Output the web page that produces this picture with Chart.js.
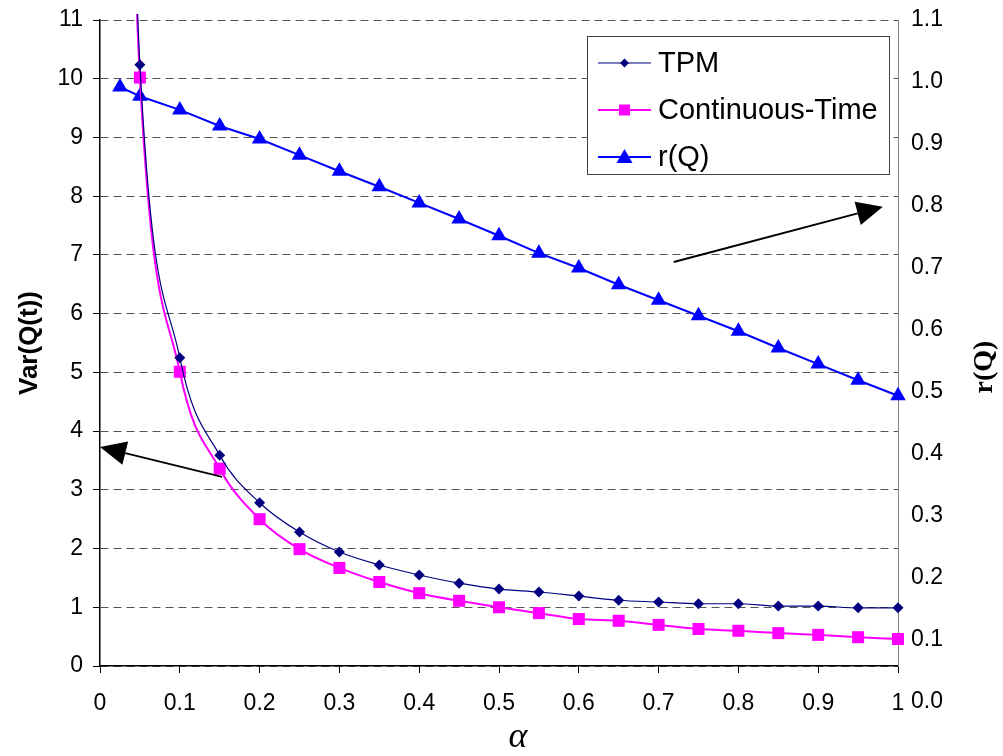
<!DOCTYPE html>
<html>
<head>
<meta charset="utf-8">
<script src="https://cdn.jsdelivr.net/npm/chart.js@4.4.0/dist/chart.umd.min.js"></script>
<style>
  html, body { margin: 0; padding: 0; background: #ffffff; }
  #wrap { width: 1003px; height: 756px; }
</style>
</head>
<body>
<div id="wrap"><canvas id="c" width="1003" height="756"></canvas></div>
<script>
// ---- data ----
const alpha = [0.025, 0.05, 0.1, 0.15, 0.2, 0.25, 0.3, 0.35, 0.4, 0.45, 0.5, 0.55, 0.6, 0.65, 0.7, 0.75, 0.8, 0.85, 0.9, 0.95, 1.0];
const tpm = [20.5, 10.24, 5.25, 3.59, 2.78, 2.28, 1.94, 1.72, 1.55, 1.41, 1.31, 1.26, 1.19, 1.12, 1.09, 1.06, 1.06, 1.02, 1.02, 0.99, 0.99];
const contTime = [20.0, 10.02, 5.01, 3.36, 2.50, 1.99, 1.67, 1.43, 1.24, 1.11, 1.00, 0.90, 0.80, 0.77, 0.70, 0.63, 0.60, 0.56, 0.53, 0.49, 0.46];
const rQ = [0.992, 0.977, 0.955, 0.929, 0.908, 0.882, 0.856, 0.831, 0.805, 0.779, 0.752, 0.724, 0.700, 0.673, 0.648, 0.623, 0.598, 0.571, 0.545, 0.519, 0.494];
const seriesNames = ['TPM', 'Continuous-Time', 'r(Q)'];
const xTicks = [0, 0.1, 0.2, 0.3, 0.4, 0.5, 0.6, 0.7, 0.8, 0.9, 1];
const leftTicks = [0, 1, 2, 3, 4, 5, 6, 7, 8, 9, 10, 11];
const rightTicks = [0.1, 0.2, 0.3, 0.4, 0.5, 0.6, 0.7, 0.8, 0.9, 1.0, 1.1];
const rightExtraLabel = 0.0;
const xTitle = '\u03B1';
const leftTitle = 'Var(Q(t))';
const rightTitle = 'r(Q)';
// arrows (data coordinates on x scale and left y scale): [tailX, tailY, tipX, tipY]
const arrows = [[0.153, 3.22, 0.0, 3.73], [0.719, 6.88, 0.981, 7.82]];

const pts = (ys) => alpha.map((a, i) => ({ x: a, y: ys[i] }));
const TICK_FONT = { family: '"Liberation Sans", Arial, sans-serif', size: 23 };

const decorPlugin = {
  id: 'decor',
  afterDatasetsDraw(chart) {
    const ctx = chart.ctx;
    const xs = chart.scales.x, ys = chart.scales.y;
    ctx.save();
    ctx.strokeStyle = '#000'; ctx.fillStyle = '#000'; ctx.lineWidth = 2;
    arrows.forEach(a => {
      const x1 = xs.getPixelForValue(a[0]), y1 = ys.getPixelForValue(a[1]);
      const x2 = xs.getPixelForValue(a[2]), y2 = ys.getPixelForValue(a[3]);
      const ang = Math.atan2(y2 - y1, x2 - x1);
      const hl = 26, hw = 12;
      const bx = x2 - hl * Math.cos(ang), by = y2 - hl * Math.sin(ang);
      ctx.beginPath(); ctx.moveTo(x1, y1); ctx.lineTo(bx, by); ctx.stroke();
      ctx.beginPath();
      ctx.moveTo(x2, y2);
      ctx.lineTo(bx + hw * Math.sin(ang), by - hw * Math.cos(ang));
      ctx.lineTo(bx - hw * Math.sin(ang), by + hw * Math.cos(ang));
      ctx.closePath(); ctx.fill();
    });
    ctx.restore();
  },
  afterDraw(chart) {
    const ctx = chart.ctx;
    const area = chart.chartArea;
    const yr = chart.scales.y1;
    ctx.save();
    // extra right-axis label 0.0 (below plot bottom, as in the reference)
    ctx.font = TICK_FONT.size + 'px ' + TICK_FONT.family;
    ctx.fillStyle = '#000'; ctx.textAlign = 'left'; ctx.textBaseline = 'middle';
    ctx.fillText(rightExtraLabel.toFixed(1), area.right + 13, yr.getPixelForValue(rightExtraLabel));
    // axis titles
    ctx.textAlign = 'center'; ctx.textBaseline = 'middle';
    ctx.font = 'italic 36px "Liberation Serif", "Times New Roman", serif';
    ctx.fillText(xTitle, (area.left + area.right) / 2 + 19, 738);
    ctx.save();
    ctx.translate(30, 343); ctx.rotate(-Math.PI / 2);
    ctx.font = 'bold 26px "Liberation Sans", Arial, sans-serif';
    ctx.fillText(leftTitle, 0, 0);
    ctx.restore();
    ctx.save();
    ctx.translate(985, 367); ctx.rotate(-Math.PI / 2);
    ctx.font = 'bold 28px "Liberation Serif", "Times New Roman", serif';
    ctx.fillText(rightTitle, 0, 0);
    ctx.restore();
    // legend box
    const lx = 587.5, ly = 36.5, lw = 302, lh = 138;
    ctx.fillStyle = '#fff'; ctx.fillRect(lx, ly, lw, lh);
    ctx.strokeStyle = '#404040'; ctx.lineWidth = 1; ctx.strokeRect(lx, ly, lw, lh);
    const rows = [63, 110, 157];
    chart.data.datasets.forEach((ds, i) => {
      const y = rows[i];
      ctx.strokeStyle = ds.borderColor; ctx.lineWidth = ds.borderWidth;
      ctx.beginPath(); ctx.moveTo(598, y); ctx.lineTo(651, y); ctx.stroke();
      ctx.fillStyle = ds.pointBackgroundColor;
      const cx = 624.5;
      ctx.beginPath();
      if (ds.pointStyle === 'rectRot') {
        const r = 4.5;
        ctx.moveTo(cx, y - r); ctx.lineTo(cx + r, y); ctx.lineTo(cx, y + r); ctx.lineTo(cx - r, y);
      } else if (ds.pointStyle === 'rect') {
        ctx.rect(cx - 5.5, y - 5.5, 11, 11);
      } else {
        ctx.moveTo(cx, y - 8); ctx.lineTo(cx + 8, y + 6); ctx.lineTo(cx - 8, y + 6);
      }
      ctx.closePath(); ctx.fill();
      ctx.fillStyle = '#000'; ctx.textAlign = 'left'; ctx.textBaseline = 'middle';
      ctx.font = '29px "Liberation Sans", Arial, sans-serif';
      ctx.fillText(ds.label, 658, y + 1);
    });
    ctx.restore();
  }
};

const clipOpt = { left: 14, right: 14, top: 6, bottom: 14 };
const noPad = (s) => { s.paddingTop = 0; s.paddingBottom = 0; s.paddingLeft = 0; s.paddingRight = 0; };

new Chart(document.getElementById('c'), {
  type: 'line',
  data: {
    datasets: [
      { label: seriesNames[0], data: pts(tpm), yAxisID: 'y', borderColor: '#000080', backgroundColor: '#000080',
        pointBackgroundColor: '#000080', pointBorderColor: '#000080', borderWidth: 1.2, pointStyle: 'rectRot',
        pointRadius: 5.5, pointBorderWidth: 0, cubicInterpolationMode: 'monotone', clip: clipOpt },
      { label: seriesNames[1], data: pts(contTime), yAxisID: 'y', borderColor: '#FF00FF', backgroundColor: '#FF00FF',
        pointBackgroundColor: '#FF00FF', pointBorderColor: '#FF00FF', borderWidth: 2, pointStyle: 'rect',
        pointRadius: 8.5, pointBorderWidth: 0, cubicInterpolationMode: 'monotone', clip: clipOpt },
      { label: seriesNames[2], data: pts(rQ), yAxisID: 'y1', borderColor: '#0000FF', backgroundColor: '#0000FF',
        pointBackgroundColor: '#0000FF', pointBorderColor: '#0000FF', borderWidth: 2, pointStyle: 'triangle',
        pointRadius: 9, pointBorderWidth: 0, tension: 0, clip: clipOpt }
    ]
  },
  options: {
    responsive: false,
    animation: false,
    events: [],
    layout: { padding: { top: 20, left: 0, right: 0, bottom: 0 } },
    plugins: { legend: { display: false }, tooltip: { enabled: false }, title: { display: false } },
    scales: {
      x: {
        type: 'linear', position: 'bottom', min: 0, max: 1,
        afterBuildTicks: (s) => { s.ticks = xTicks.map(v => ({ value: v })); },
        afterFit: (s) => { s.height = 90; noPad(s); },
        ticks: { font: TICK_FONT, color: '#000', padding: 17, maxRotation: 0, autoSkip: false,
                 callback: (v) => (v === 0 || v === 1) ? String(v) : v.toFixed(1) },
        grid: { drawOnChartArea: false, tickLength: 7, color: '#000', tickColor: '#000', lineWidth: 1 },
        border: { display: true, color: '#000', width: 1.5 }
      },
      y: {
        type: 'linear', position: 'left', min: 0, max: 11,
        afterBuildTicks: (s) => { s.ticks = leftTicks.map(v => ({ value: v })); },
        afterFit: (s) => { s.width = 100; noPad(s); },
        ticks: { font: TICK_FONT, color: '#000', padding: 10, autoSkip: false },
        grid: { color: '#555', lineWidth: 1, tickLength: 7, tickColor: '#000', tickBorderDash: [], tickWidth: 1 },
        border: { display: true, color: '#000', width: 1.5, dash: [8, 5] }
      },
      y1: {
        type: 'linear', position: 'right', min: 0.0581, max: 1.1,
        afterBuildTicks: (s) => { s.ticks = rightTicks.map(v => ({ value: v })); },
        afterFit: (s) => { s.width = 105; noPad(s); },
        ticks: { font: TICK_FONT, color: '#000', padding: 13, autoSkip: false, callback: (v) => v.toFixed(1) },
        grid: { display: false, drawTicks: false },
        border: { display: true, color: '#808080', width: 1 }
      }
    }
  },
  plugins: [decorPlugin]
});
</script>
</body>
</html>
